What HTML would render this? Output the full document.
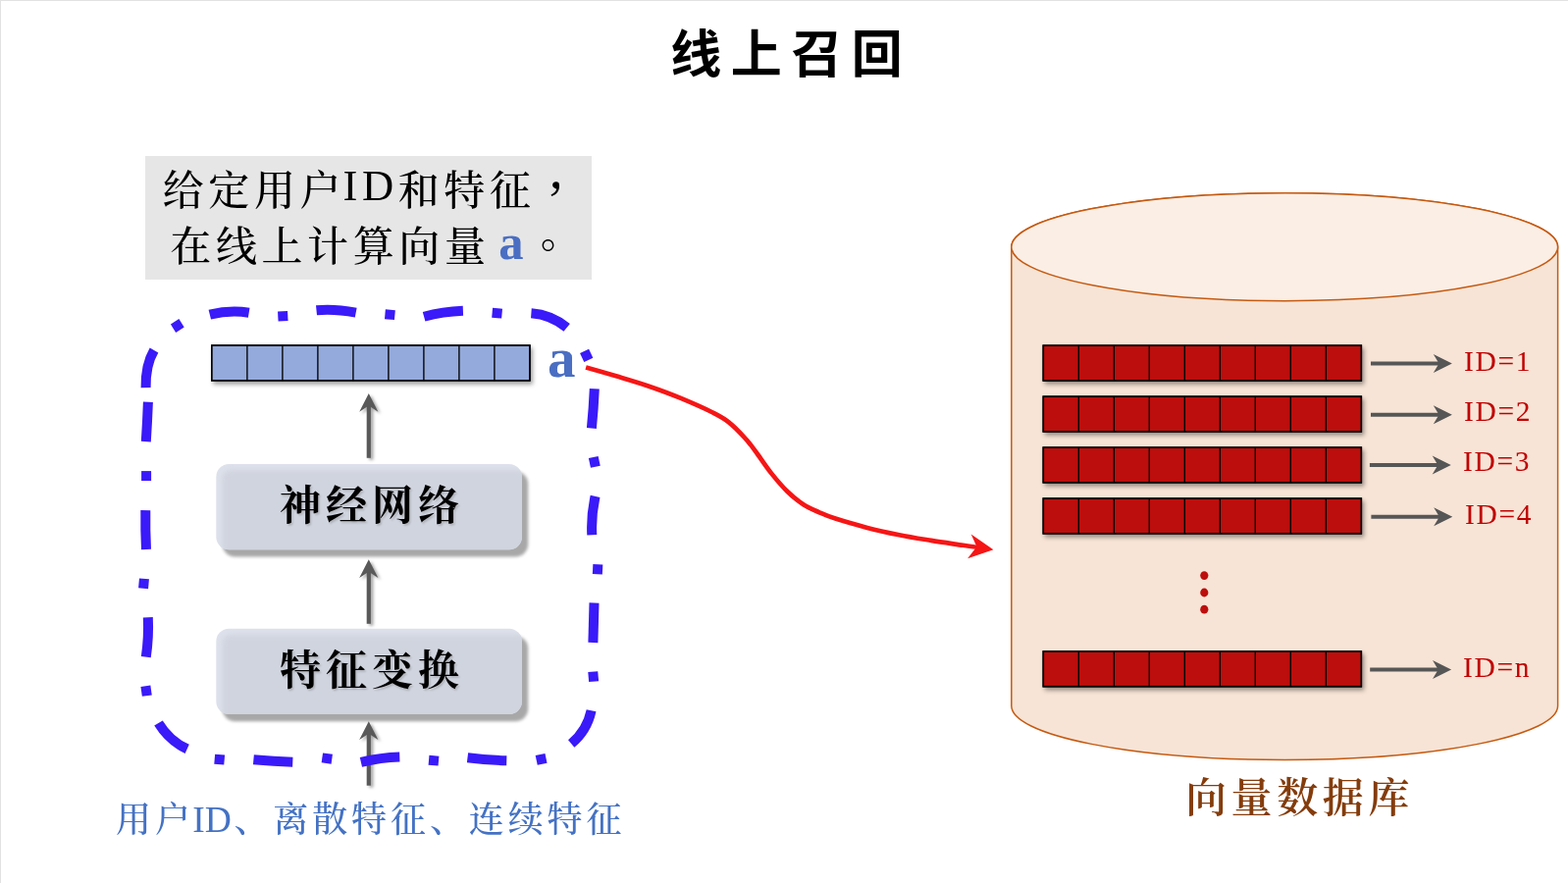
<!DOCTYPE html>
<html lang="zh-CN">
<head>
<meta charset="utf-8">
<title>线上召回</title>
<style>
html,body{margin:0;padding:0;background:#fff;}
body{width:1598px;height:900px;position:relative;overflow:hidden;font-family:"Liberation Serif","Noto Serif CJK SC",serif;}
.frame{position:absolute;left:0;top:0;width:1598px;height:900px;box-sizing:border-box;border-top:1px solid #e2e2e2;border-left:1px solid #e2e2e2;}
.t{position:absolute;white-space:nowrap;line-height:44px;margin:0;will-change:transform;}
.t span,.note span{position:relative;line-height:0;}
.title{left:0;width:1598px;top:28.5px;line-height:54px;text-align:center;font-family:"Liberation Sans","Noto Sans CJK SC",sans-serif;font-size:52px;font-weight:700;letter-spacing:9.5px;text-indent:14.4px;color:#000;}
.note{position:absolute;left:148px;top:159px;width:455px;height:126px;background:#e6e6e6;will-change:transform;}
.note p{position:absolute;margin:0;white-space:nowrap;line-height:44px;font-size:42px;font-weight:500;letter-spacing:4.6px;color:#000;}
.tc{font-family:"Noto Serif CJK TC","Noto Serif CJK SC",serif;}
.a{font-family:"Liberation Serif",serif;font-weight:bold;color:#4a6ec2;letter-spacing:0;}
.lat{font-family:"Liberation Serif",serif;font-weight:400;}
.box{font-size:42px;font-weight:700;letter-spacing:5px;color:#000;text-align:center;width:312px;left:222.5px;text-shadow:1.5px 1.5px 2px rgba(0,0,0,.15);}
.in{font-size:36px;font-weight:500;letter-spacing:3.9px;color:#4472c4;}
.db{font-size:42px;font-weight:600;letter-spacing:4.6px;color:#843c0c;}
.id{font-family:"Liberation Serif",serif;font-size:29.5px;letter-spacing:1.7px;color:#c00000;}
</style>
</head>
<body>
<svg width="1598" height="900" viewBox="0 0 1598 900" style="position:absolute;left:0;top:0"><defs>
<filter id="sh" color-interpolation-filters="sRGB" x="-5%" y="-30%" width="115%" height="190%"><feDropShadow dx="2.2" dy="3.2" stdDeviation="1.9" flood-color="#000" flood-opacity="0.37"/></filter>
<filter id="sh2" color-interpolation-filters="sRGB" x="-50%" y="-50%" width="250%" height="250%"><feDropShadow dx="2.5" dy="2" stdDeviation="1.5" flood-color="#000" flood-opacity="0.35"/></filter>
<filter id="shb" color-interpolation-filters="sRGB" x="-10%" y="-20%" width="125%" height="150%"><feDropShadow dx="6.3" dy="7.3" stdDeviation="1.5" flood-color="#000" flood-opacity="0.34"/></filter>
<filter id="bl" color-interpolation-filters="sRGB" x="-10%" y="-20%" width="120%" height="140%"><feGaussianBlur stdDeviation="2.6"/></filter>
<clipPath id="cb1"><rect x="220.3" y="473" width="311.6" height="87.2" rx="13"/></clipPath>
<clipPath id="cb2"><rect x="220.3" y="640.8" width="311.6" height="87.2" rx="13"/></clipPath>
</defs><path d="M1030.8 251.7V719.5A278.4 55 0 0 0 1587.6 719.5V251.7A278.4 55 0 0 0 1030.8 251.7Z" fill="#f7e4d6" stroke="#c55a11" stroke-width="1.5"/><ellipse cx="1309.1999999999998" cy="251.7" rx="278.4" ry="55" fill="#fbeee5" stroke="#c55a11" stroke-width="1.5"/><g filter="url(#sh)"><rect x="1062.50" y="351.40" width="325.60" height="37.30" fill="#000"/></g><rect x="1063.30" y="352.20" width="324.00" height="35.7" fill="#bc0e0c" stroke="#000" stroke-width="1.6"/><path d="M1099.30 352.20v35.7M1135.30 352.20v35.7M1171.30 352.20v35.7M1207.30 352.20v35.7M1243.30 352.20v35.7M1279.30 352.20v35.7M1315.30 352.20v35.7M1351.30 352.20v35.7" stroke="#000" stroke-width="1.35" fill="none"/><g><path d="M1397.0 370.5H1469.9" stroke="#565656" stroke-width="4.1" fill="none"/><path d="M1479.9 370.5L1460.8 361.0L1466.5 370.5L1460.8 380.0Z" fill="#565656"/></g><g filter="url(#sh)"><rect x="1062.50" y="403.40" width="325.60" height="37.30" fill="#000"/></g><rect x="1063.30" y="404.20" width="324.00" height="35.7" fill="#bc0e0c" stroke="#000" stroke-width="1.6"/><path d="M1099.30 404.20v35.7M1135.30 404.20v35.7M1171.30 404.20v35.7M1207.30 404.20v35.7M1243.30 404.20v35.7M1279.30 404.20v35.7M1315.30 404.20v35.7M1351.30 404.20v35.7" stroke="#000" stroke-width="1.35" fill="none"/><g><path d="M1397.0 422.8H1469.9" stroke="#565656" stroke-width="4.1" fill="none"/><path d="M1479.9 422.8L1460.8 413.3L1466.5 422.8L1460.8 432.3Z" fill="#565656"/></g><g filter="url(#sh)"><rect x="1062.50" y="455.30" width="325.60" height="37.30" fill="#000"/></g><rect x="1063.30" y="456.10" width="324.00" height="35.7" fill="#bc0e0c" stroke="#000" stroke-width="1.6"/><path d="M1099.30 456.10v35.7M1135.30 456.10v35.7M1171.30 456.10v35.7M1207.30 456.10v35.7M1243.30 456.10v35.7M1279.30 456.10v35.7M1315.30 456.10v35.7M1351.30 456.10v35.7" stroke="#000" stroke-width="1.35" fill="none"/><g><path d="M1395.9 474.0H1468.8" stroke="#565656" stroke-width="4.1" fill="none"/><path d="M1478.8 474.0L1459.7 464.5L1465.4 474.0L1459.7 483.5Z" fill="#565656"/></g><g filter="url(#sh)"><rect x="1062.50" y="507.30" width="325.60" height="37.30" fill="#000"/></g><rect x="1063.30" y="508.10" width="324.00" height="35.7" fill="#bc0e0c" stroke="#000" stroke-width="1.6"/><path d="M1099.30 508.10v35.7M1135.30 508.10v35.7M1171.30 508.10v35.7M1207.30 508.10v35.7M1243.30 508.10v35.7M1279.30 508.10v35.7M1315.30 508.10v35.7M1351.30 508.10v35.7" stroke="#000" stroke-width="1.35" fill="none"/><g><path d="M1397.4 526.8H1470.3" stroke="#565656" stroke-width="4.1" fill="none"/><path d="M1480.3 526.8L1461.2 517.3L1466.9 526.8L1461.2 536.3Z" fill="#565656"/></g><g filter="url(#sh)"><rect x="1062.50" y="663.20" width="325.60" height="37.30" fill="#000"/></g><rect x="1063.30" y="664.00" width="324.00" height="35.7" fill="#bc0e0c" stroke="#000" stroke-width="1.6"/><path d="M1099.30 664.00v35.7M1135.30 664.00v35.7M1171.30 664.00v35.7M1207.30 664.00v35.7M1243.30 664.00v35.7M1279.30 664.00v35.7M1315.30 664.00v35.7M1351.30 664.00v35.7" stroke="#000" stroke-width="1.35" fill="none"/><g><path d="M1396.2 682.5H1469.1" stroke="#565656" stroke-width="4.1" fill="none"/><path d="M1479.1 682.5L1460.0 673.0L1465.7 682.5L1460.0 692.0Z" fill="#565656"/></g><g filter="url(#sh)"><rect x="215.10" y="351.30" width="325.60" height="37.30" fill="#000"/></g><rect x="215.90" y="352.10" width="324.00" height="35.7" fill="#94aadc" stroke="#000" stroke-width="1.6"/><path d="M251.90 352.10v35.7M287.90 352.10v35.7M323.90 352.10v35.7M359.90 352.10v35.7M395.90 352.10v35.7M431.90 352.10v35.7M467.90 352.10v35.7M503.90 352.10v35.7" stroke="#000" stroke-width="1.35" fill="none"/><ellipse cx="1227.3" cy="586.6" rx="4.1" ry="4.4" fill="#bc0e0c"/><ellipse cx="1227.3" cy="604.0" rx="4.1" ry="4.4" fill="#bc0e0c"/><ellipse cx="1227.3" cy="621.2" rx="4.1" ry="4.4" fill="#bc0e0c"/><g filter="url(#shb)"><rect x="220.3" y="473.0" width="311.6" height="87.2" rx="13" fill="#dde1eb"/></g><g clip-path="url(#cb1)"><rect x="226.3" y="479.0" width="311.6" height="87.2" rx="9" fill="#d0d4de" filter="url(#bl)"/></g><g filter="url(#shb)"><rect x="220.3" y="640.8" width="311.6" height="87.2" rx="13" fill="#dde1eb"/></g><g clip-path="url(#cb2)"><rect x="226.3" y="646.8" width="311.6" height="87.2" rx="9" fill="#d0d4de" filter="url(#bl)"/></g><g filter="url(#sh2)"><path d="M375.8 466.8V410.0" stroke="#595959" stroke-width="4.2" fill="none"/><path d="M375.8 401.0L366.2 419.7L375.8 413.5L385.4 419.7Z" fill="#595959"/></g><g filter="url(#sh2)"><path d="M375.8 635.8V579.3" stroke="#595959" stroke-width="4.2" fill="none"/><path d="M375.8 570.3L366.2 589.0L375.8 582.8L385.4 589.0Z" fill="#595959"/></g><g filter="url(#sh2)"><path d="M375.8 800.7V744.2" stroke="#595959" stroke-width="4.2" fill="none"/><path d="M375.8 735.2L366.2 753.9000000000001L375.8 747.7L385.4 753.9000000000001Z" fill="#595959"/></g><path d="M150.9 409.8Q150.1 430.0 148.8 450.1" stroke="#3a1af8" stroke-width="10" fill="none"/><path d="M148.6 395.2Q148.2 371.9 157.0 357.0" stroke="#3a1af8" stroke-width="10" fill="none"/><path d="M213.8 320.7Q234.4 315.5 253.7 318.7" stroke="#3a1af8" stroke-width="10" fill="none"/><path d="M322.5 316.3Q340.4 314.5 362.7 318.7" stroke="#3a1af8" stroke-width="10" fill="none"/><path d="M432.1 322.8Q451.2 317.6 471.9 316.8" stroke="#3a1af8" stroke-width="10" fill="none"/><path d="M541.4 319.2Q561.7 320.7 577.7 333.8" stroke="#3a1af8" stroke-width="10" fill="none"/><path d="M605.8 396.3Q604.9 416.6 602.9 436.5" stroke="#3a1af8" stroke-width="10" fill="none"/><path d="M606.6 505.9Q602.2 526.0 603.3 545.3" stroke="#3a1af8" stroke-width="10" fill="none"/><path d="M605.5 614.5Q605.0 634.7 604.4 655.0" stroke="#3a1af8" stroke-width="10" fill="none"/><path d="M602.6 724.3Q598.2 744.9 582.2 758.0" stroke="#3a1af8" stroke-width="10" fill="none"/><path d="M516.3 775.2Q495.6 774.7 476.5 772.3" stroke="#3a1af8" stroke-width="10" fill="none"/><path d="M407.3 771.5Q388.0 772.1 367.9 776.8" stroke="#3a1af8" stroke-width="10" fill="none"/><path d="M298.3 776.8Q279.2 776.1 258.4 774.2" stroke="#3a1af8" stroke-width="10" fill="none"/><path d="M190.7 763.4Q172.5 755.0 161.5 737.0" stroke="#3a1af8" stroke-width="10" fill="none"/><path d="M150.8 629.2Q151.8 648.6 148.8 669.6" stroke="#3a1af8" stroke-width="10" fill="none"/><path d="M148.3 520.1Q148.0 540.0 149.0 559.9" stroke="#3a1af8" stroke-width="10" fill="none"/><rect x="175.8" y="327.0" width="10" height="10" fill="#3a1af8" transform="rotate(-32 180.8 332.0)"/><rect x="283.3" y="317.3" width="10" height="10" fill="#3a1af8" transform="rotate(-3 288.3 322.3)"/><rect x="392.4" y="315.7" width="10" height="10" fill="#3a1af8" transform="rotate(5 397.4 320.7)"/><rect x="501.6" y="314.2" width="10" height="10" fill="#3a1af8" transform="rotate(5 506.6 319.2)"/><rect x="592.7" y="357.3" width="10" height="10" fill="#3a1af8" transform="rotate(-25 597.7 362.3)"/><rect x="600.8" y="465.9" width="10" height="10" fill="#3a1af8" transform="rotate(-12 605.8 470.9)"/><rect x="604.1" y="575.2" width="10" height="10" fill="#3a1af8" transform="rotate(3 609.1 580.2)"/><rect x="599.7" y="684.6" width="10" height="10" fill="#3a1af8" transform="rotate(-5 604.7 689.6)"/><rect x="546.6" y="768.9" width="10" height="10" fill="#3a1af8" transform="rotate(-12 551.6 773.9)"/><rect x="437.0" y="770.2" width="10" height="10" fill="#3a1af8" transform="rotate(5 442.0 775.2)"/><rect x="328.3" y="768.1" width="10" height="10" fill="#3a1af8" transform="rotate(8 333.3 773.1)"/><rect x="218.7" y="769.1" width="10" height="10" fill="#3a1af8" transform="rotate(5 223.7 774.1)"/><rect x="144.1" y="699.2" width="10" height="10" fill="#3a1af8" transform="rotate(-8 149.1 704.2)"/><rect x="141.5" y="589.8" width="10" height="10" fill="#3a1af8" transform="rotate(5 146.5 594.8)"/><rect x="144.1" y="480.1" width="10" height="10" fill="#3a1af8" transform="rotate(0 149.1 485.1)"/><path d="M597.1 374.5C602.4 376.0 618.1 380.4 628.8 383.6C639.5 386.8 650.5 390.0 661.4 393.7C672.2 397.4 683.1 401.4 693.9 405.9C704.7 410.4 718.3 416.4 726.4 420.5C734.5 424.6 737.3 426.0 742.7 430.3C748.1 434.6 754.5 441.2 759.0 446.2C763.5 451.1 765.5 453.9 770.0 460.0C774.5 466.1 780.9 475.8 786.3 482.6C791.7 489.4 797.1 495.7 802.5 501.0C807.9 506.3 813.4 510.7 818.8 514.2C824.2 517.8 829.7 519.9 835.1 522.3C840.5 524.7 843.3 526.0 851.4 528.6C859.5 531.2 873.1 535.1 883.9 537.9C894.7 540.7 905.5 543.0 916.4 545.2C927.2 547.4 938.1 549.1 949.0 550.9C959.9 552.7 973.7 554.6 981.5 555.8C989.3 557.0 993.6 557.5 996.0 557.9" stroke="#f51616" stroke-width="4.7" fill="none"/><path d="M1012.4 560.2L989.7 544.4L995.4 557.3L986.1 569.3Z" fill="#f51616"/></svg>
<div class="frame"></div>
<h1 class="t title">线上召回</h1>
<div class="note">
<p style="left:17.7px;top:14.3px">给定用户<span class="lat" style="font-size:44.6px;letter-spacing:4.5px;margin-left:-2.5px;margin-right:0.1px;top:-5.4px">ID</span>和特征<span class="tc" lang="zh-TW" style="font-size:50px;margin-left:-4px;top:4px">，</span></p>
<p style="left:25.3px;top:70.8px">在线上计算向量<span class="a" style="font-size:50.6px;margin-left:8.7px;margin-right:4px;top:-1.4px">a</span><span class="tc" lang="zh-TW">。</span></p>
</div>
<div class="t a" style="left:558px;top:343px;font-size:57px">a</div>
<div class="t box" style="top:494.3px">神经网络</div>
<div class="t box" style="top:662.3px">特征变换</div>
<div class="t in" style="left:118.1px;top:813.7px">用户<span class="lat" style="font-size:37.5px;letter-spacing:0;margin-left:-1.5px;margin-right:2.5px">ID</span>、离散特征、连续特征</div>
<div class="t db" style="left:1208px;top:792px">向量数据库</div>
<div class="t id" style="left:1492px;top:345.5px">ID=1</div>
<div class="t id" style="left:1492px;top:397.2px">ID=2</div>
<div class="t id" style="left:1491px;top:448.3px">ID=3</div>
<div class="t id" style="left:1492.5px;top:501.7px">ID=4</div>
<div class="t id" style="left:1491px;top:657.5px">ID=n</div>
</body>
</html>
